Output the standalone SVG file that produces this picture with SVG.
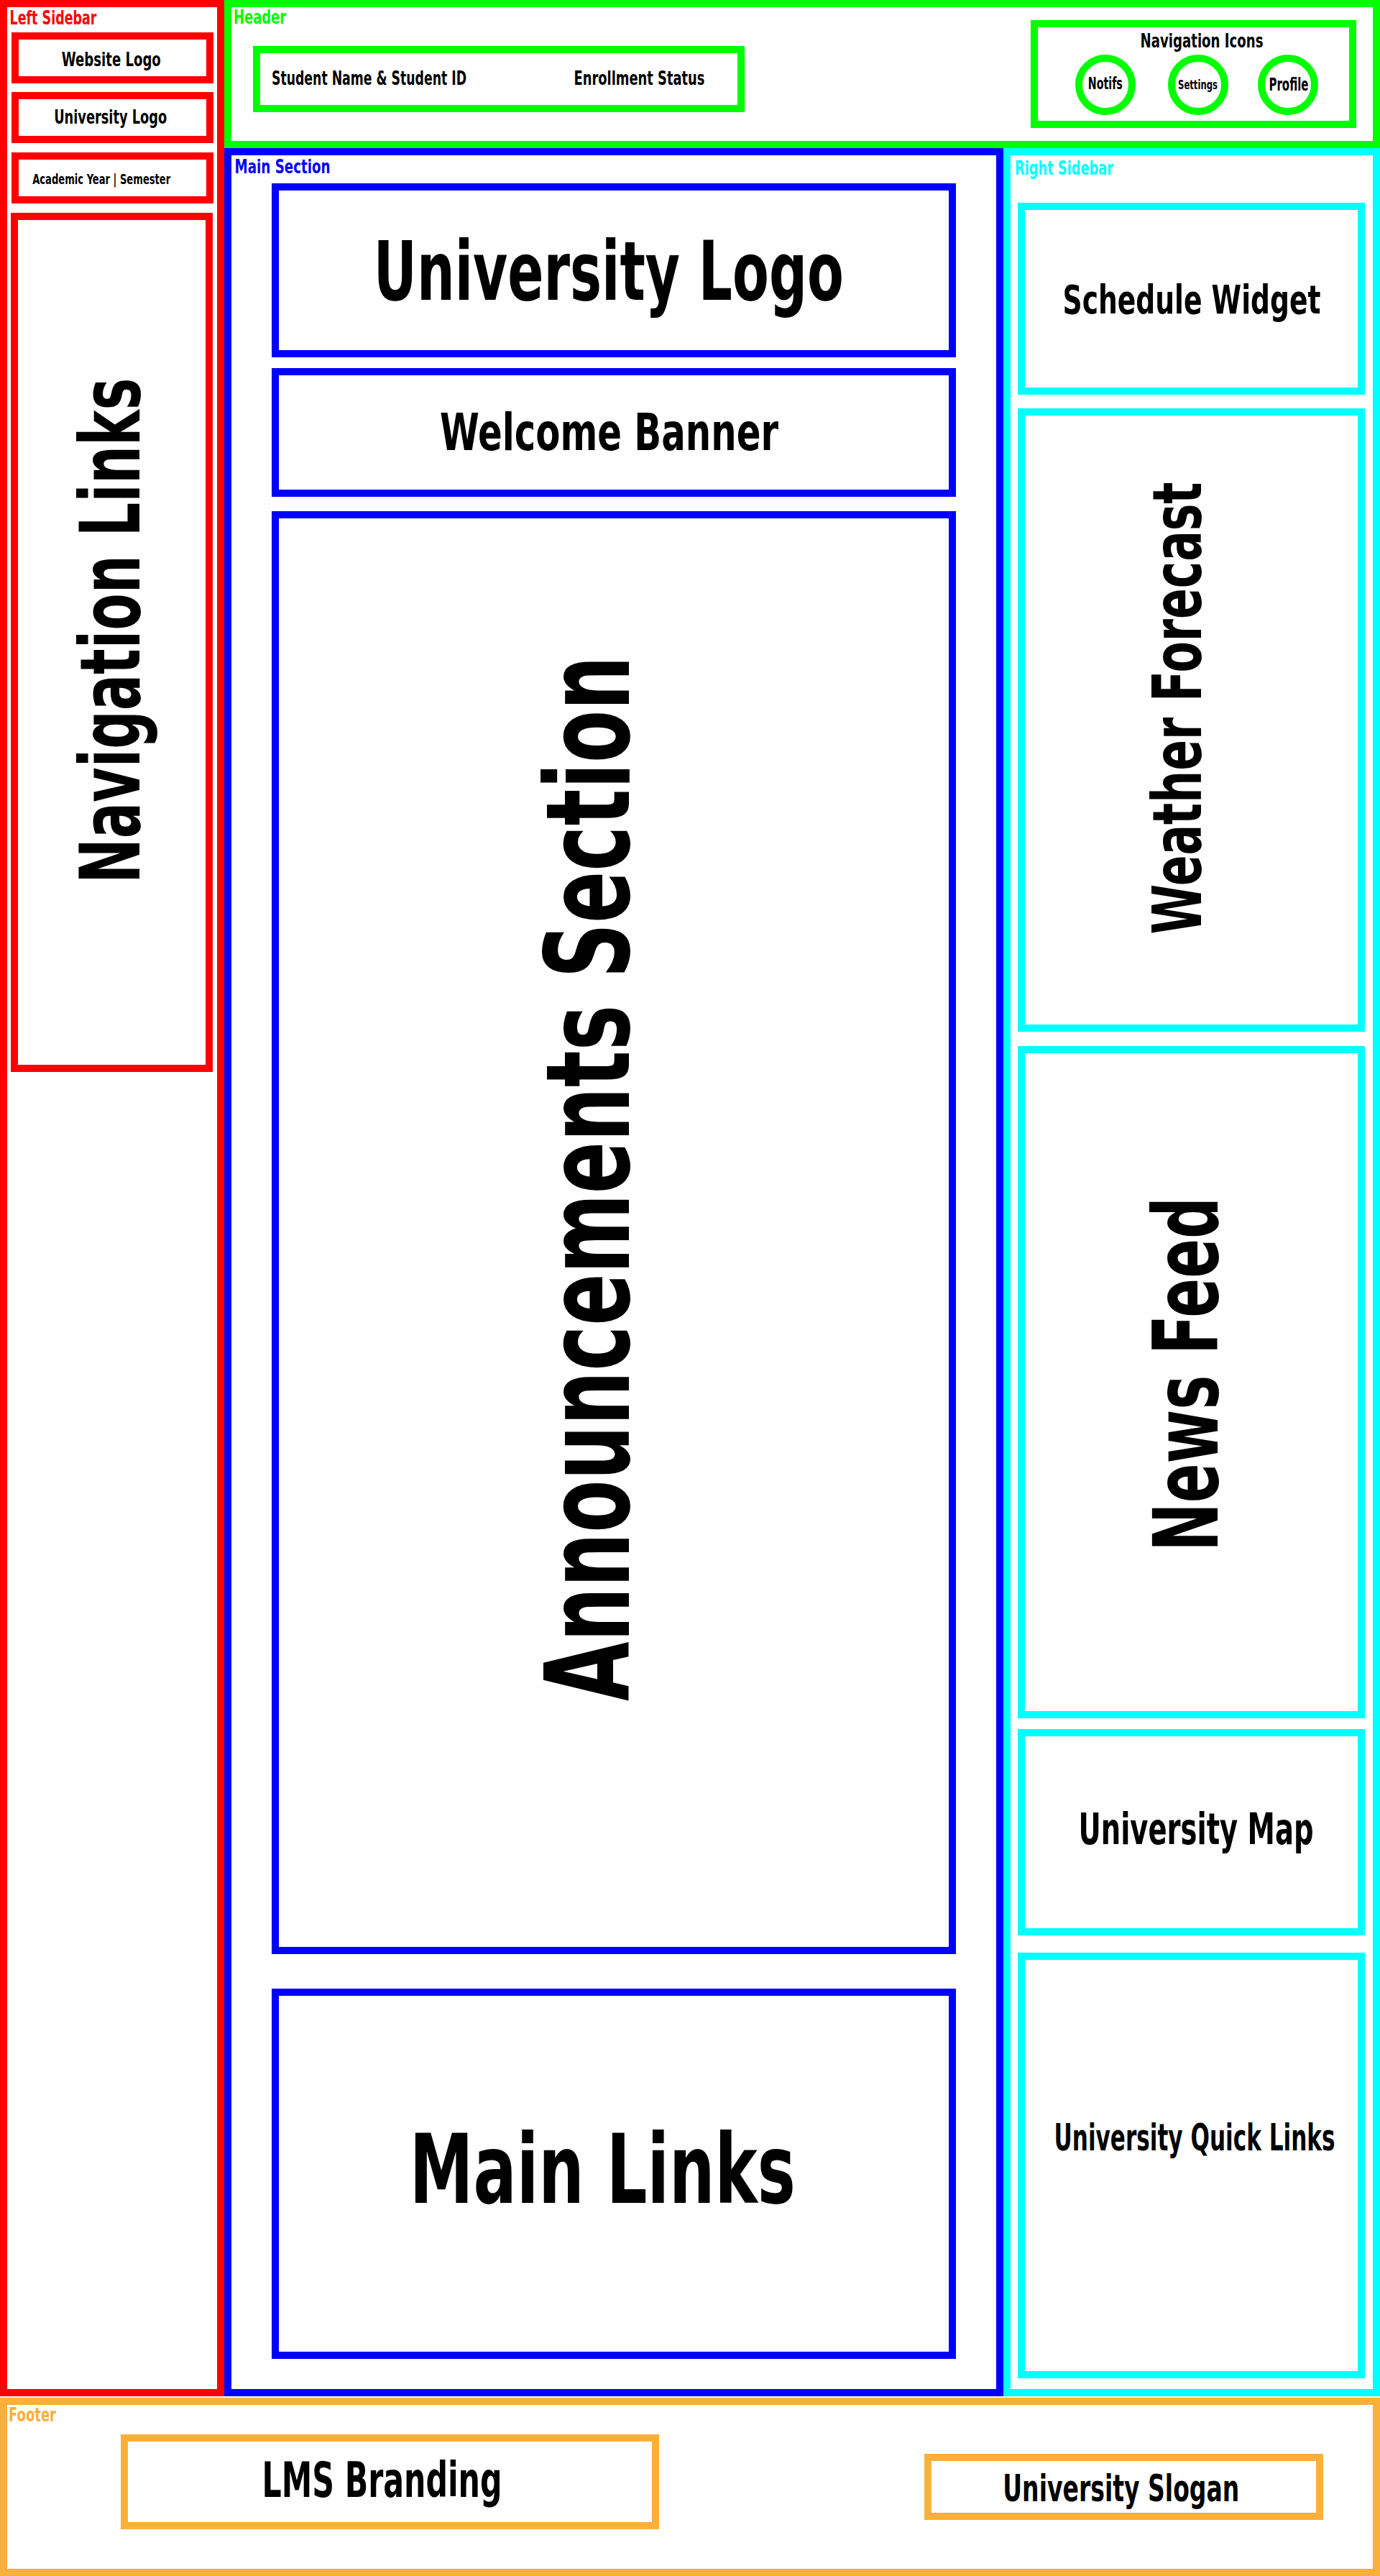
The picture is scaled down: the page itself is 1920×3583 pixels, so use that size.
<svg xmlns="http://www.w3.org/2000/svg" width="1920" height="3583" viewBox="0 0 1920 3583">
  <style>
    .box { fill: none; stroke-width: 10; }
    .red { stroke: #ff0000; }
    .green { stroke: #00ff00; }
    .blue { stroke: #0000ff; }
    .cyan { stroke: #00ffff; }
    .orange { stroke: #fbb03b; }
    text { font-family: "DejaVu Sans Condensed", "DejaVu Sans", "Liberation Sans", sans-serif; font-stretch: condensed; font-weight: bold; }
    .t { fill: #000000; text-anchor: middle; }
    .ts { fill: #000000; text-anchor: start; }
    .lbl { font-size: 26px; text-anchor: start; }
  </style>
  <rect x="0" y="0" width="1920" height="3583" fill="#ffffff"/>

  <!-- Left sidebar -->
  <g id="left-sidebar">
    <rect class="box red" x="5" y="5" width="302" height="3323"/>
    <text class="lbl" x="13.5" y="34" fill="#ff0000" textLength="121" lengthAdjust="spacingAndGlyphs">Left Sidebar</text>
  </g>
  <g id="website-logo">
    <rect class="box red" x="21" y="50" width="271" height="61"/>
    <text class="t" x="154.8" y="91.7" font-size="27.4" textLength="138" lengthAdjust="spacingAndGlyphs">Website Logo</text>
  </g>
  <g id="sidebar-university-logo">
    <rect class="box red" x="21" y="133" width="271" height="61"/>
    <text class="t" x="153.7" y="171.7" font-size="27.4" textLength="157" lengthAdjust="spacingAndGlyphs">University Logo</text>
  </g>
  <g id="academic-year">
    <rect class="box red" x="21" y="217" width="271" height="61"/>
    <text class="t" x="141.2" y="256" font-size="19.2" textLength="192" lengthAdjust="spacingAndGlyphs">Academic Year | Semester</text>
  </g>
  <g id="navigation-links">
    <rect class="box red" x="20" y="301" width="271" height="1185"/>
    <text class="t" font-size="116" textLength="703" lengthAdjust="spacingAndGlyphs" transform="translate(194 877.3) rotate(-90)">Navigation Links</text>
  </g>

  <!-- Header -->
  <g id="header">
    <rect class="box green" x="317" y="5" width="1598" height="196"/>
    <text class="lbl" x="325" y="33" fill="#00ff00" textLength="73" lengthAdjust="spacingAndGlyphs">Header</text>
  </g>
  <g id="student-info">
    <rect class="box green" x="357" y="69" width="674" height="82"/>
    <text class="ts" x="378" y="118" font-size="26" textLength="271" lengthAdjust="spacingAndGlyphs">Student Name &amp; Student ID</text>
    <text class="ts" x="798.5" y="118" font-size="26" textLength="182" lengthAdjust="spacingAndGlyphs">Enrollment Status</text>
  </g>
  <g id="navigation-icons">
    <rect class="box green" x="1439" y="33" width="443" height="140"/>
    <text class="t" x="1672" y="66" font-size="26.5" textLength="171" lengthAdjust="spacingAndGlyphs">Navigation Icons</text>
  </g>
  <g id="icon-notifs">
    <circle class="box green" cx="1538" cy="118" r="37"/>
    <text class="t" x="1537.8" y="124" font-size="23.3" textLength="48" lengthAdjust="spacingAndGlyphs">Notifs</text>
  </g>
  <g id="icon-settings">
    <circle class="box green" cx="1667" cy="118" r="37"/>
    <text class="t" x="1666.5" y="124" font-size="17.8" textLength="55" lengthAdjust="spacingAndGlyphs">Settings</text>
  </g>
  <g id="icon-profile">
    <circle class="box green" cx="1792" cy="118" r="37"/>
    <text class="t" x="1793" y="125.5" font-size="25" textLength="55" lengthAdjust="spacingAndGlyphs">Profile</text>
  </g>

  <!-- Main section -->
  <g id="main-section">
    <rect class="box blue" x="317" y="211" width="1074" height="3117"/>
    <text class="lbl" x="326.6" y="240.6" fill="#0000ff" textLength="133" lengthAdjust="spacingAndGlyphs">Main Section</text>
  </g>
  <g id="main-university-logo">
    <rect class="box blue" x="383" y="260" width="942" height="232"/>
    <text class="t" x="846.8" y="417" font-size="114" textLength="654" lengthAdjust="spacingAndGlyphs">University Logo</text>
  </g>
  <g id="welcome-banner">
    <rect class="box blue" x="383" y="517" width="942" height="169"/>
    <text class="t" x="847.5" y="626" font-size="71.3" textLength="471" lengthAdjust="spacingAndGlyphs">Welcome Banner</text>
  </g>
  <g id="announcements">
    <rect class="box blue" x="383" y="716" width="942" height="1997"/>
    <text class="t" font-size="162" textLength="1454" lengthAdjust="spacingAndGlyphs" transform="translate(875 1639) rotate(-90)">Announcements Section</text>
  </g>
  <g id="main-links">
    <rect class="box blue" x="383" y="2771" width="942" height="505"/>
    <text class="t" x="838.3" y="3064" font-size="134" textLength="537" lengthAdjust="spacingAndGlyphs">Main Links</text>
  </g>

  <!-- Right sidebar -->
  <g id="right-sidebar">
    <rect class="box cyan" x="1401" y="211" width="514" height="3117"/>
    <text class="lbl" x="1412" y="242.7" fill="#00ffff" textLength="137" lengthAdjust="spacingAndGlyphs">Right Sidebar</text>
  </g>
  <g id="schedule-widget">
    <rect class="box cyan" x="1421" y="287" width="473" height="257"/>
    <text class="t" font-size="40" textLength="359" lengthAdjust="spacingAndGlyphs" transform="translate(1658 436) scale(1 1.4)">Schedule Widget</text>
  </g>
  <g id="weather-forecast">
    <rect class="box cyan" x="1421" y="573" width="473" height="857"/>
    <text class="t" font-size="94.6" textLength="629" lengthAdjust="spacingAndGlyphs" transform="translate(1671 985) rotate(-90)">Weather Forecast</text>
  </g>
  <g id="news-feed">
    <rect class="box cyan" x="1421" y="1460" width="473" height="925"/>
    <text class="t" font-size="125" textLength="493" lengthAdjust="spacingAndGlyphs" transform="translate(1693.5 1911.5) rotate(-90)">News Feed</text>
  </g>
  <g id="university-map">
    <rect class="box cyan" x="1421" y="2410" width="473" height="277"/>
    <text class="t" font-size="40" textLength="327" lengthAdjust="spacingAndGlyphs" transform="translate(1664 2565) scale(1 1.5)">University Map</text>
  </g>
  <g id="quick-links">
    <rect class="box cyan" x="1421" y="2721" width="473" height="582"/>
    <text class="t" font-size="30" textLength="391" lengthAdjust="spacingAndGlyphs" transform="translate(1662 2991) scale(1 1.69)">University Quick Links</text>
  </g>

  <!-- Footer -->
  <g id="footer">
    <rect class="box orange" x="5" y="3340" width="1910" height="238"/>
    <text class="lbl" x="12" y="3368" fill="#fbb03b" textLength="66" lengthAdjust="spacingAndGlyphs">Footer</text>
  </g>
  <g id="lms-branding">
    <rect class="box orange" x="173" y="3391" width="739" height="122"/>
    <text class="t" x="531.5" y="3473" font-size="67" textLength="334" lengthAdjust="spacingAndGlyphs">LMS Branding</text>
  </g>
  <g id="university-slogan">
    <rect class="box orange" x="1291" y="3418" width="545" height="82"/>
    <text class="t" x="1559.8" y="3479" font-size="50.8" textLength="329" lengthAdjust="spacingAndGlyphs">University Slogan</text>
  </g>
</svg>
